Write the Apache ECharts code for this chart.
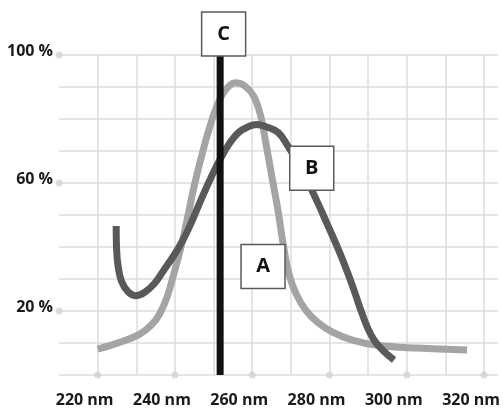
<!DOCTYPE html>
<html>
<head>
<meta charset="utf-8">
<script src="https://cdn.jsdelivr.net/npm/echarts@6/dist/echarts.min.js"></script>
<style>
  html, body { margin: 0; padding: 0; background: #fff; }
  #chart { width: 503px; height: 408px; }
</style>
</head>
<body>
<div id="chart"></div>
<script>
// wavelength (nm), relative absorbance (%)
var curveA = [[220, 8.1], [225.7, 10.2], [230.8, 12.7], [233.9, 15.6], [236, 19], [238, 24.5],
  [239.8, 32], [241.9, 41.6], [243.6, 51.2], [245.2, 60.2], [247, 68.9], [248.8, 76.7],
  [250.8, 83.9], [253.1, 89.1], [255.7, 91.3], [258, 90.4], [260.3, 87.3], [262.1, 81.4],
  [263.6, 72], [265.2, 61.2], [266.7, 51.2], [268, 41], [269.5, 31.7], [271.3, 25.5],
  [273.9, 20.2], [276.9, 16.5], [280.8, 13.4], [285.9, 10.9], [292.3, 9.3], [302.6, 8.4], [315.6, 7.8]]
var curveB = [[224.8, 46.6], [224.9, 39.4], [225.3, 33.9], [226.2, 29.2], [227.8, 26.1], [229.8, 24.8],
  [232.1, 25.8], [234.7, 28.6], [237.2, 32.9], [239.8, 37.5], [241.9, 41.8], [243.6, 45.9],
  [246.2, 53.2], [248.8, 60.3], [251.3, 66.5], [253.9, 72], [256.5, 75.8], [259, 77.6],
  [261.1, 78.3], [263.6, 77.6], [266.7, 75.8], [269.3, 71.4], [271.8, 66.5], [274.4, 60.3],
  [277, 53.7], [279.5, 46.9], [282.1, 39.8], [284.6, 32.3], [286.6, 25.6], [288.3, 19.6],
  [289.9, 14.6], [291.6, 10.8], [293.9, 7.6], [296.7, 4.7]]
var lineC = [[251.7, 0], [251.7, 100]]

var boxNames = ['A', 'B', 'C']
var boxX = [262.8, 275.4, 252.6]
var boxY = [33.9, 64.6, 106.6]

var xTicks = [220, 240, 260, 280, 300, 320]
var yTicks = [20, 60, 100]

var chart = echarts.init(document.getElementById('chart'))

var dots = []
xTicks.forEach(function(v) { dots.push([v, 0]) })
yTicks.forEach(function(v) { dots.push([210, v]) })

var boxes = boxNames.map(function(n, i) {
  return { name: n, value: [boxX[i], boxY[i]] }
})

var font = '"Open Sans", "Noto Sans", sans-serif'

chart.setOption({
  animation: false,
  grid: { left: 59, right: 1, top: 55, bottom: 31 },
  xAxis: {
    type: 'value',
    min: 210,
    max: 323.6,
    interval: 10,
    axisLine: { show: false },
    axisTick: { show: false },
    splitLine: {
      show: true,
      showMinLine: false,
      showMaxLine: false,
      lineStyle: { color: '#dcdcdc', width: 1.5 }
    },
    axisLabel: {
      margin: 17,
      padding: [0, 26, 0, 0],
      color: '#1a1a1a',
      fontFamily: font,
      fontWeight: 'bold',
      fontSize: 16,
      showMaxLabel: false,
      formatter: function(v) {
        return xTicks.indexOf(v) >= 0 ? v + ' nm' : ''
      }
    }
  },
  yAxis: {
    type: 'value',
    min: 0,
    max: 100,
    interval: 10,
    axisLine: { show: false },
    axisTick: { show: false },
    splitLine: { lineStyle: { color: '#dcdcdc', width: 1.5 } },
    axisLabel: {
      margin: 6,
      verticalAlign: 'bottom',
      lineHeight: 8,
      color: '#1a1a1a',
      fontFamily: font,
      fontWeight: 'bold',
      fontSize: 16,
      formatter: function(v) {
        return yTicks.indexOf(v) >= 0 ? v + ' %' : ''
      }
    }
  },
  series: [
    {
      type: 'scatter',
      data: dots,
      symbol: 'circle',
      symbolSize: 7,
      clip: false,
      itemStyle: { color: '#d2d2d2' },
      z: 1
    },
    {
      name: 'A',
      type: 'line',
      data: curveA,
      smooth: 0.4,
      showSymbol: false,
      lineStyle: { color: '#a4a4a4', width: 7 },
      z: 2
    },
    {
      name: 'B',
      type: 'line',
      data: curveB,
      smooth: 0.4,
      showSymbol: false,
      lineStyle: { color: '#595959', width: 7 },
      z: 3
    },
    {
      name: 'C',
      type: 'line',
      data: lineC,
      showSymbol: false,
      lineStyle: { color: '#111', width: 7, cap: 'butt' },
      z: 4
    },
    {
      type: 'scatter',
      data: boxes,
      symbol: 'rect',
      symbolSize: 44,
      clip: false,
      itemStyle: { color: '#fff', borderColor: '#5a5a5a', borderWidth: 1.5, opacity: 1 },
      label: {
        show: true,
        position: 'inside',
        formatter: '{b}',
        color: '#111',
        fontFamily: font,
        fontWeight: 'bold',
        fontSize: 20
      },
      z: 5
    }
  ]
})

window.addEventListener('resize', function() {
  chart.resize()
})
</script>
</body>
</html>
